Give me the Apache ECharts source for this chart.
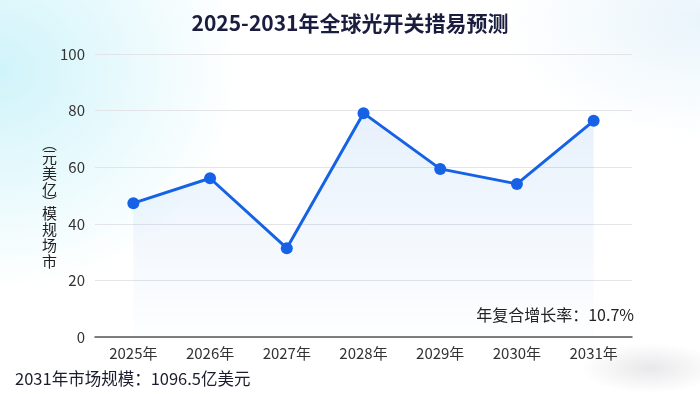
<!DOCTYPE html>
<html>
<head>
<meta charset="utf-8">
<script src="https://cdn.jsdelivr.net/npm/echarts@6/dist/echarts.min.js"></script>
<style>
html,body{margin:0;padding:0;}
#chart{width:700px;height:394px;
background:
 radial-gradient(ellipse 240px 220px at 0px 70px, rgba(205,243,250,0.95), rgba(255,255,255,0) 100%),
 radial-gradient(ellipse 200px 120px at 700px 20px, rgba(228,242,250,0.8), rgba(255,255,255,0) 100%),
 radial-gradient(ellipse 70px 25px at 650px 368px, rgba(205,205,210,0.45), rgba(255,255,255,0) 100%),
 #ffffff;}
</style>
</head>
<body>
<div id="chart"></div>
<script>
var categories = ['2025年','2026年','2027年','2028年','2029年','2030年','2031年'];
var marketSize = [47.3, 56.1, 31.4, 79.1, 59.4, 54.1, 76.4];
var yTicks = [0, 20, 40, 60, 80, 100];
var titleText = '2025-2031年全球光开关措易预测';
var yNameUnit = ['︵','元','美','亿','︶'];
var yNameMain = ['模','规','场','市'];
var cagrText = '年复合增长率：10.7%';
var footText = '2031年市场规模：1096.5亿美元';

var chart = echarts.init(document.getElementById('chart'), null, {renderer:'canvas'});
var font = '"Noto Sans CJK SC", "Noto Sans", sans-serif';
var unitRich = yNameUnit.map(function(c, i){ return (i === 0 || i === yNameUnit.length-1) ? '{p|' + c + '}' : '{c|' + c + '}'; }).join('\n');
chart.setOption({
  backgroundColor: 'transparent',
  textStyle: {fontFamily: font},
  title: {
    text: titleText, left: 'center', top: 8,
    textStyle: {fontSize: 21, fontWeight: 'bold', color: '#1b1d3f', fontFamily: font}
  },
  grid: {left: 95, right: 68, top: 54, bottom: 57},
  xAxis: {
    type: 'category', data: categories, boundaryGap: true,
    axisLine: {lineStyle: {color: '#555', width: 1.5}},
    axisTick: {show: false},
    axisLabel: {color: '#333', fontSize: 15, margin: 9, fontFamily: font}
  },
  yAxis: {
    type: 'value', min: yTicks[0], max: yTicks[yTicks.length-1], interval: 20,
    axisLine: {show: false}, axisTick: {show: false},
    axisLabel: {color: '#333', fontSize: 15, margin: 10, fontFamily: font},
    splitLine: {lineStyle: {color: '#e4e4e8', width: 1}}
  },
  graphic: [
    {type: 'text', left: 42, top: 136, style: {text: unitRich, fill: '#222', fontFamily: font, align: 'center',
      rich: {p: {fontSize: 15, lineHeight: 11, fill: '#222', fontFamily: font}, c: {fontSize: 15, lineHeight: 16, fill: '#222', fontFamily: font}}}},
    {type: 'text', left: 42, top: 205, style: {text: yNameMain.join('\n'), fontSize: 15, lineHeight: 16, fill: '#222', fontFamily: font}},
    {type: 'text', right: 66, top: 307, style: {text: cagrText, fontSize: 16, fill: '#222', fontFamily: font}},
    {type: 'text', left: 15, top: 370, style: {text: footText, fontSize: 16.5, fill: '#1b1d2f', fontFamily: font}}
  ],
  series: [{
    type: 'line', data: marketSize,
    symbol: 'circle', symbolSize: 12,
    lineStyle: {color: '#1662e6', width: 3},
    itemStyle: {color: '#1662e6'},
    areaStyle: {color: new echarts.graphic.LinearGradient(0,0,0,1,[
      {offset:0, color:'rgba(40,130,225,0.16)'},
      {offset:1, color:'rgba(40,130,225,0.01)'}
    ])},
    animation: false
  }]
});
</script>
</body>
</html>
